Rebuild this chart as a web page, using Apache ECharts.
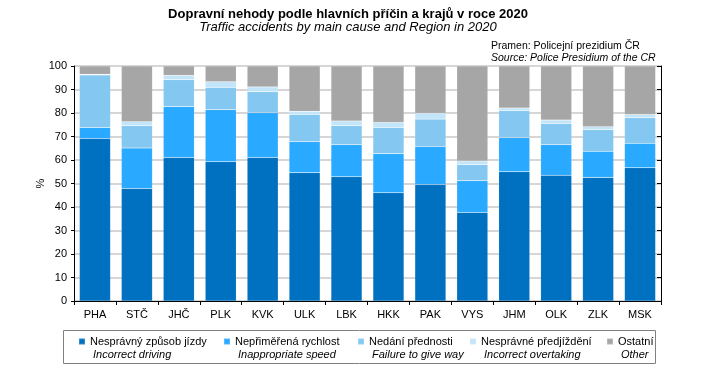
<!DOCTYPE html>
<html>
<head>
<meta charset="utf-8">
<script src="https://cdn.jsdelivr.net/npm/echarts@6/dist/echarts.min.js"></script>
<style>html,body{margin:0;padding:0;background:#fff}#c{width:706px;height:392px}</style>
</head>
<body>
<div id="c"></div>
<script>
var categories = ['PHA','STČ','JHČ','PLK','KVK','ULK','LBK','HKK','PAK','VYS','JHM','OLK','ZLK','MSK'];
var incorrectDriving = [69.1,47.9,61.1,59.3,61.1,54.6,52.9,46.1,49.6,37.7,55.0,53.5,52.6,56.7];
var inappropriateSpeed = [4.7,17.2,21.6,22.1,19.0,13.2,13.6,16.6,16.1,13.5,14.5,13.0,11.1,10.4];
var failureToGiveWay = [22.4,9.5,11.5,9.5,9.0,11.6,8.1,11.1,11.7,6.8,11.5,9.0,9.2,10.9];
var incorrectOvertaking = [0.3,1.7,1.8,2.4,2.0,1.3,2.0,2.2,2.5,1.6,1.1,1.5,1.3,1.4];
var other = [3.5,23.7,4.0,6.7,8.9,19.3,23.4,24.0,20.1,40.4,17.9,23.0,25.8,20.6];
var yTicks = [0,10,20,30,40,50,60,70,80,90,100];

var seriesNamesCz = ['Nesprávný způsob jízdy','Nepřiměřená rychlost','Nedání přednosti','Nesprávné předjíždění','Ostatní'];
var seriesNamesEn = ['Incorrect driving','Inappropriate speed','Failure to give way','Incorrect overtaking','Other'];
var seriesData = [incorrectDriving, inappropriateSpeed, failureToGiveWay, incorrectOvertaking, other];
var colors = ['#0070C0','#29A9FF','#84C7F0','#C2E5F9','#A6A6A6'];
var legendLeft = [78, 223, 357, 469, 606];

var FONT = '"Liberation Sans", Arial, sans-serif';
var chart = echarts.init(document.getElementById('c'), null, {renderer:'canvas'});

var series = seriesNamesCz.map(function(n, i){
  return {
    name: n, type: 'bar', stack: 'all', data: seriesData[i],
    barWidth: '74%',
    itemStyle: {color: colors[i], borderColor: 'rgba(255,255,255,0.2)', borderWidth: 0.5},
    emphasis: {disabled: true}
  };
});

var legends = seriesNamesCz.map(function(n, i){
  return {
    data: [n], left: legendLeft[i], top: 336, padding: 0,
    icon: 'rect', itemWidth: 6, itemHeight: 6, itemGap: 0,
    selectedMode: false,
    formatter: function(name){
      var idx = seriesNamesCz.indexOf(name);
      return '{a|' + name + '}\n{b|' + seriesNamesEn[idx] + '}';
    },
    textStyle: {
      padding: [13,0,0,0],
      rich: {
        a: {fontFamily: FONT, fontSize: 11, color: '#000', lineHeight: 13},
        b: {fontFamily: FONT, fontSize: 11, fontStyle: 'italic', color: '#000', lineHeight: 13, padding: [0,0,0,3]}
      }
    }
  };
});

chart.setOption({
  animation: false,
  color: colors,
  grid: {left: 74, right: 45, top: 66, bottom: 91, containLabel: false},
  xAxis: {
    type: 'category', data: categories,
    axisLine: {lineStyle: {color: '#000', width: 1}},
    axisTick: {show: true, length: 4, lineStyle: {color: '#000'}},
    axisLabel: {fontFamily: FONT, fontSize: 11, color: '#000', margin: 8}
  },
  yAxis: [{
    type: 'value', min: 0, max: 100, interval: 10,
    name: '%', nameLocation: 'middle', nameGap: 28, nameRotate: 90, nameMoveOverlap: false,
    nameTextStyle: {fontFamily: FONT, fontSize: 11, color: '#000'},
    axisLine: {show: true, lineStyle: {color: '#000'}},
    axisTick: {show: true, length: 3, lineStyle: {color: '#000'}},
    axisLabel: {fontFamily: FONT, fontSize: 11, color: '#000', margin: 7,
      formatter: function(v){ return yTicks.indexOf(v) >= 0 ? String(v) : ''; }},
    splitLine: {show: true, lineStyle: {color: '#D6D6D6', width: 2}}
  },{
    type: 'value', min: 0, max: 100, interval: 10, position: 'right',
    axisLine: {show: true, lineStyle: {color: '#000'}},
    axisTick: {show: true, inside: true, length: 4, lineStyle: {color: '#000'}},
    axisLabel: {show: false},
    splitLine: {show: false}
  }],
  legend: legends,
  series: series,
  graphic: [
    {type: 'text', x: 348, y: 14, silent: true, style: {text: 'Dopravní nehody podle hlavních příčin a krajů v roce 2020', font: 'bold 13px ' + FONT, fill: '#000', align: 'center', verticalAlign: 'middle'}},
    {type: 'text', x: 348, y: 27, silent: true, style: {text: 'Traffic accidents by main cause and Region in 2020', font: 'italic 13px ' + FONT, fill: '#000', align: 'center', verticalAlign: 'middle'}},
    {type: 'text', x: 491, y: 46, silent: true, style: {text: 'Pramen: Policejní prezidium ČR', font: '10.5px ' + FONT, fill: '#000', align: 'left', verticalAlign: 'middle'}},
    {type: 'text', x: 491, y: 58, silent: true, style: {text: 'Source: Police Presidium of the CR', font: 'italic 10.5px ' + FONT, fill: '#000', align: 'left', verticalAlign: 'middle'}},
    {type: 'rect', silent: true, shape: {x: 63.5, y: 330.5, width: 592, height: 33}, style: {fill: 'none', stroke: '#808080', lineWidth: 1}}
  ]
});
</script>
</body>
</html>
